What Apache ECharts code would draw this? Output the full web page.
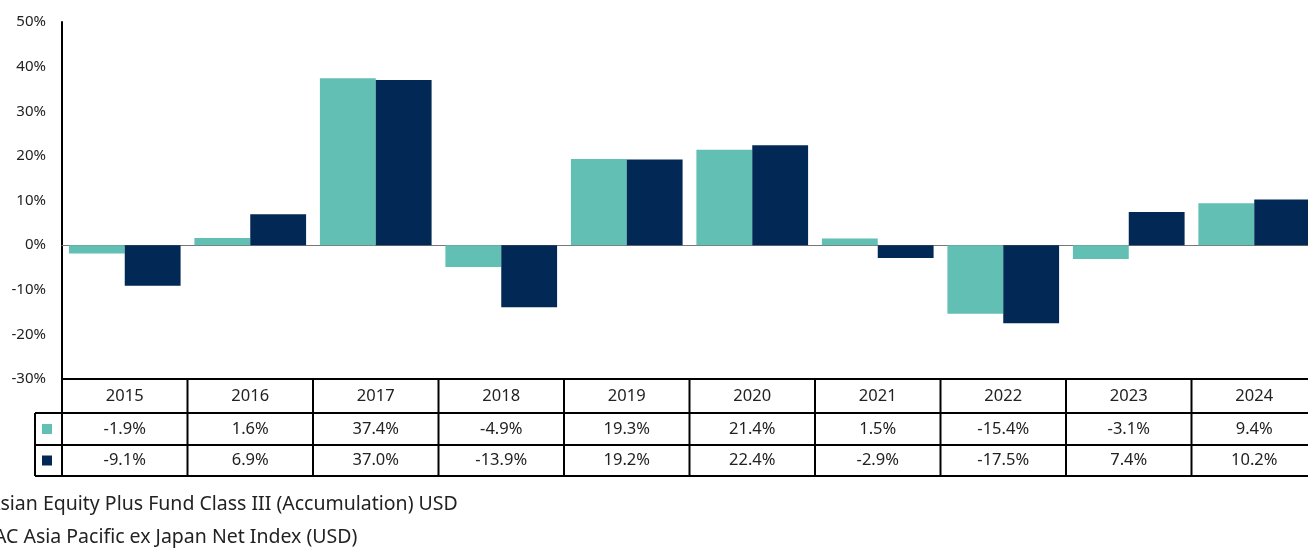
<!DOCTYPE html>
<html>
<head>
<meta charset="utf-8">
<script src="https://cdn.jsdelivr.net/npm/echarts@6/dist/echarts.min.js"></script>
<style>
  html, body { margin: 0; padding: 0; background: #fff; }
  #main { width: 1308px; height: 548px; }
</style>
</head>
<body>
<div id="main"></div>
<script>
// data
var years = ['2015', '2016', '2017', '2018', '2019', '2020', '2021', '2022', '2023', '2024'];
var fundVals = [-1.9, 1.6, 37.4, -4.9, 19.3, 21.4, 1.5, -15.4, -3.1, 9.4];
var indexVals = [-9.1, 6.9, 37.0, -13.9, 19.2, 22.4, -2.9, -17.5, 7.4, 10.2];
var fundName = 'Asian Equity Plus Fund Class III (Accumulation) USD';
var indexName = 'AC Asia Pacific ex Japan Net Index (USD)';

var teal = '#62bfb3';
var navy = '#022955';
var font = '"Noto Sans", sans-serif';

var myChart = echarts.init(document.getElementById('main'));

var option = {
  animation: false,
  // plot runs a little past the right edge of the picture
  grid: { left: 62, top: 22, width: 1255, height: 357, outerBoundsMode: 'none' },
  xAxis: {
    type: 'category',
    data: years,
    axisLine: { onZero: true, lineStyle: { color: '#777', width: 1 } },
    axisTick: { show: false },
    axisLabel: { show: false }
  },
  yAxis: {
    type: 'value',
    min: -30,
    max: 50,
    interval: 10,
    splitLine: { show: false },
    axisLine: { show: true, lineStyle: { color: '#000', width: 2 } },
    axisTick: { show: false },
    axisLabel: {
      formatter: '{value}%',
      color: '#222',
      fontSize: 15,
      fontFamily: font,
      margin: 16
    }
  },
  series: [
    {
      name: fundName,
      type: 'bar',
      data: fundVals,
      barGap: '0%',
      barCategoryGap: '11%',
      itemStyle: { color: teal }
    },
    {
      name: indexName,
      type: 'bar',
      data: indexVals,
      itemStyle: { color: navy }
    }
  ]
};

myChart.setOption(option);

// table under the chart, positioned from the category axis
var rowTop = [379, 413, 445, 476];
var leftCol = 35;
var half = (myChart.convertToPixel({ xAxisIndex: 0 }, years[1]) - myChart.convertToPixel({ xAxisIndex: 0 }, years[0])) / 2;
var els = [];
var lineStyle = { stroke: '#000', lineWidth: 2 };

function hline(x1, x2, y) {
  els.push({ type: 'line', shape: { x1: x1, y1: y, x2: x2, y2: y }, style: lineStyle, z: 10 });
}
function vline(x, y1, y2) {
  els.push({ type: 'line', shape: { x1: x, y1: y1, x2: x, y2: y2 }, style: lineStyle, z: 10 });
}
function cellText(x, y, txt) {
  els.push({
    type: 'text', x: x, y: y, z: 10,
    style: { text: txt, fill: '#222', font: '16.5px ' + font, align: 'center', verticalAlign: 'middle' }
  });
}

var xStart = myChart.convertToPixel({ xAxisIndex: 0 }, years[0]) - half;
var xEnd = myChart.convertToPixel({ xAxisIndex: 0 }, years[years.length - 1]) + half + 10;

hline(xStart, xEnd, rowTop[0]);
hline(leftCol, xEnd, rowTop[1]);
hline(leftCol, xEnd, rowTop[2]);
hline(leftCol, xEnd, rowTop[3]);
vline(leftCol, rowTop[1], rowTop[3]);
vline(xStart, rowTop[0], rowTop[3]);

years.forEach(function (yr, i) {
  var cx = myChart.convertToPixel({ xAxisIndex: 0 }, yr);
  if (i > 0) vline(cx - half, rowTop[0], rowTop[3]);
  cellText(cx, (rowTop[0] + rowTop[1]) / 2, yr);
  cellText(cx, (rowTop[1] + rowTop[2]) / 2, fundVals[i].toFixed(1) + '%');
  cellText(cx, (rowTop[2] + rowTop[3]) / 2, indexVals[i].toFixed(1) + '%');
});

// legend swatches in the first column
[[teal, rowTop[1], rowTop[2]], [navy, rowTop[2], rowTop[3]]].forEach(function (s) {
  var cy = (s[1] + s[2]) / 2;
  els.push({ type: 'rect', shape: { x: 42, y: cy - 5, width: 10, height: 10 }, style: { fill: s[0] }, z: 10 });
});

// series names below the table (cut off at the left edge)
els.push({
  type: 'text', x: -12, y: 504, z: 10,
  style: { text: fundName, fill: '#222', font: '19.5px ' + font, verticalAlign: 'middle' }
});
els.push({
  type: 'text', x: -6, y: 537, z: 10,
  style: { text: indexName, fill: '#222', font: '19.5px ' + font, verticalAlign: 'middle' }
});

myChart.setOption({ graphic: { elements: els } });
</script>
</body>
</html>
